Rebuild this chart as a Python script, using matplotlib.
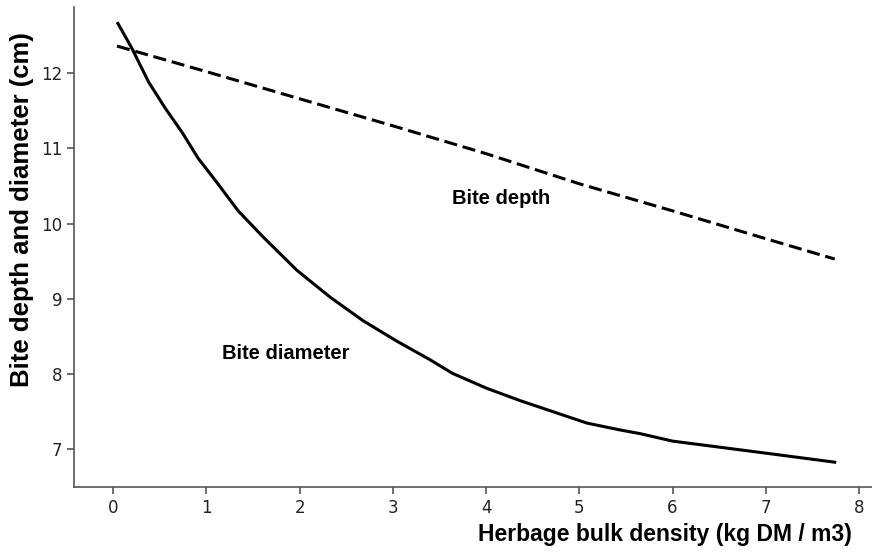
import numpy as np
import matplotlib.pyplot as plt

# values
diam_x = [0.05, 0.20, 0.38, 0.56, 0.74, 0.91, 1.11, 1.34, 1.61, 1.97, 2.33, 2.68,
          3.04, 3.40, 3.64, 4.01, 4.36, 4.72, 5.08, 5.43, 5.65, 6.0, 7.0, 7.74]
diameter = [12.66, 12.33, 11.88, 11.53, 11.21, 10.87, 10.55, 10.17, 9.82, 9.38, 9.02, 8.71,
            8.44, 8.19, 8.01, 7.81, 7.65, 7.50, 7.35, 7.26, 7.21, 7.11, 6.95, 6.83]
depth_x = [0.04, 1, 1.97, 3, 4, 5, 6, 7, 7.74]
depth = [12.36, 12.02, 11.67, 11.3, 10.93, 10.53, 10.17, 9.8, 9.53]

plt.rcParams['font.family'] = ['DejaVu Sans']
fig = plt.figure(figsize=(8.72, 5.55), dpi=100)
ax = fig.add_axes([0.085, 0.1225, 0.915, 0.865])

ax.plot(diam_x, diameter, color='black', linewidth=2.2, solid_joinstyle='round')
ax.plot(depth_x, depth, color='black', linewidth=2.2, linestyle=(0, (4.3, 1.9)))

ax.text(4.16, 10.34, 'Bite depth', family='Liberation Sans', fontweight='bold',
        fontsize=14.5, ha='center', va='center')
ax.text(1.85, 8.28, 'Bite diameter', family='Liberation Sans', fontweight='bold',
        fontsize=14.5, ha='center', va='center')

ax.set_xlim(-0.42, 8.14)
ax.set_ylim(6.5, 12.88)
ax.set_xticks(range(0, 9))
ax.set_yticks(range(7, 13))

for side in ['top', 'right']:
    ax.spines[side].set_visible(False)
for side in ['left', 'bottom']:
    ax.spines[side].set_color('#555555')
    ax.spines[side].set_linewidth(1.2)
ax.tick_params(direction='out', length=5, width=1.2, color='#555555',
               labelsize=12, labelcolor='#222222')

fig.text(665 / 872, 1 - 535 / 555, 'Herbage bulk density (kg DM / m3)',
         family='Liberation Sans', fontweight='bold', fontsize=16.5,
         ha='center', va='center')
fig.text(22 / 872, 1 - 210 / 555, 'Bite depth and diameter (cm)',
         family='Liberation Sans', fontweight='bold', fontsize=18.5,
         rotation=90, ha='center', va='center')

fig.savefig('out.png', dpi=100)
